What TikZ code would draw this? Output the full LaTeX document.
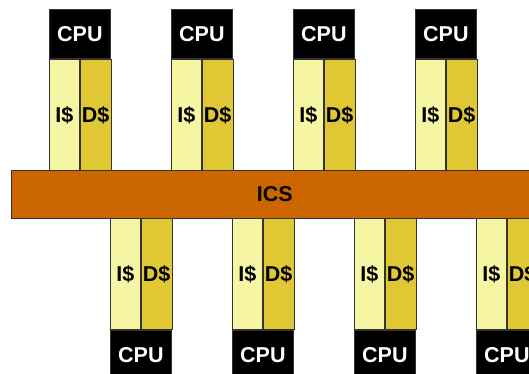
\documentclass[tikz,border=0pt]{standalone}
\usepackage{fontspec}
\setmainfont{Liberation Sans}
\usetikzlibrary{positioning}
\definecolor{icol}{RGB}{245,245,163}
\definecolor{dcol}{RGB}{224,200,52}
\definecolor{icscol}{RGB}{204,102,0}

\begin{document}
\begin{tikzpicture}[x=1pt,y=-1pt,font=\fontsize{21.5}{26}\selectfont\bfseries,
  box/.style={draw=black!80,line width=.8pt,inner sep=0pt,anchor=north west},
  cpubox/.style={box,fill=black,text=white,minimum width=61pt,minimum height=49pt},
  icache/.style={box,fill=icol,minimum width=30pt,minimum height=112pt},
  dcache/.style={box,fill=dcol,minimum width=31pt,minimum height=112pt}]
 \useasboundingbox (0,0) rectangle (529,374);
 \clip (0,0) rectangle (529,374);
 \def\dx{122}
 % top row: CPU over its caches
 \foreach \k in {0,...,3}{
  \node[cpubox] (cpuT\k) at ({49+\k*\dx},9) {CPU};
  \node[icache] (iT\k) at (cpuT\k.south west) {I\$};
  \node[dcache] (dT\k) at (iT\k.north east) {D\$};
 }
 % interconnect
 \node[box,fill=icscol,minimum width=527pt,minimum height=48pt] (ics) at (11,170) {ICS};
 % bottom row: caches over CPU
 \foreach \k in {0,...,3}{
  \node[icache,minimum height=111pt] (iB\k) at ({110+\k*\dx},218) {I\$};
  \node[dcache,minimum height=111pt] (dB\k) at (iB\k.north east) {D\$};
  \node[cpubox] (cpuB\k) at (iB\k.south west) {CPU};
 }
\end{tikzpicture}
\end{document}
